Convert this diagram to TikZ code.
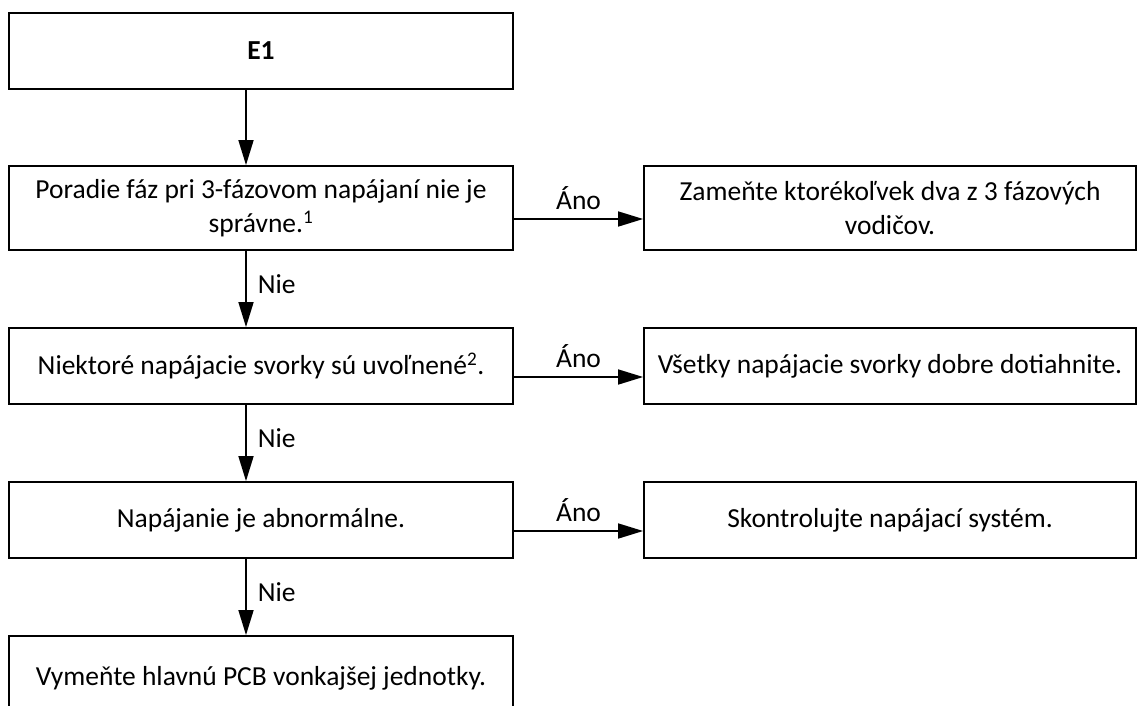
\documentclass[tikz,border=0pt]{standalone}
\usepackage{fontspec}
\setmainfont{Carlito}
\usetikzlibrary{arrows.meta}

\tikzset{
  box/.style={draw, line width=1.8pt, minimum width=504pt, minimum height=76pt,
    inner sep=0pt, align=center, font=\fontsize{27.5}{33.5}\selectfont},
  rbox/.style={box, minimum width=492pt},
  arr/.style={line width=1.6pt, -{Triangle[length=25pt,width=15pt]}},
  lbl/.style={inner sep=0pt, font=\fontsize{27.5}{33.5}\selectfont}
}

\begin{document}
\begin{tikzpicture}[x=1pt,y=-1pt]
\clip (0,0) rectangle (1137,706);

\node[box] (E) at (261,51) {\textbf{E1}};
\node[box, minimum height=84pt] (Q1) at (261,208) {Poradie fáz pri 3-fázovom napájaní nie je\\správne.\textsuperscript{1}};
\node[box] (Q2) at (261,366) {Niektoré napájacie svorky sú uvoľnené\textsuperscript{2}.};
\node[box] (Q3) at (261,520) {Napájanie je abnormálne.};
\node[box, minimum height=84pt] (R) at (261,678) {Vymeňte hlavnú PCB vonkajšej jednotky.};

\node[rbox, minimum height=84pt] (A1) at (890,208) {Zameňte ktorékoľvek dva z 3 fázových\\vodičov.};
\node[rbox] (A2) at (890,366) {Všetky napájacie svorky dobre dotiahnite.};
\node[rbox] (A3) at (890,520) {Skontrolujte napájací systém.};

\draw[arr] ([xshift=-15pt]E.south) -- ([xshift=-15pt]Q1.north);
\draw[arr] ([xshift=-15pt]Q1.south) -- node[lbl, right=11pt, pos=0.44] {Nie} ([xshift=-15pt]Q2.north);
\draw[arr] ([xshift=-15pt]Q2.south) -- node[lbl, right=11pt, pos=0.44] {Nie} ([xshift=-15pt]Q3.north);
\draw[arr] ([xshift=-15pt]Q3.south) -- node[lbl, right=11pt, pos=0.44] {Nie} ([xshift=-15pt]R.north);

\draw[arr] ([yshift=-11pt]Q1.east) -- node[lbl, above=9pt] {Áno} ([yshift=-11pt]A1.west);
\draw[arr] ([yshift=-11pt]Q2.east) -- node[lbl, above=9pt] {Áno} ([yshift=-11pt]A2.west);
\draw[arr] ([yshift=-11pt]Q3.east) -- node[lbl, above=9pt] {Áno} ([yshift=-11pt]A3.west);
\end{tikzpicture}
\end{document}
